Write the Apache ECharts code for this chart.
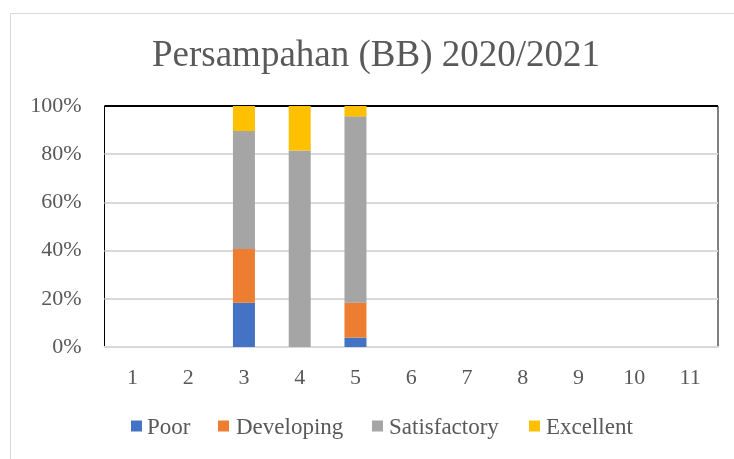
<!DOCTYPE html>
<html>
<head>
<meta charset="utf-8">
<script src="https://cdn.jsdelivr.net/npm/echarts@6/dist/echarts.min.js"></script>
<style>
html,body{margin:0;padding:0;background:#fff;}
#chart{width:734px;height:459px;}
</style>
</head>
<body>
<div id="chart"></div>
<script>
const titleText = 'Persampahan (BB) 2020/2021';
const categories = ['1','2','3','4','5','6','7','8','9','10','11'];
const poor =         [0, 0, 18.4, 0,    3.9, 0, 0, 0, 0, 0, 0];
const developing =   [0, 0, 22.3, 0,   14.5, 0, 0, 0, 0, 0, 0];
const satisfactory = [0, 0, 48.9, 81.5, 77.3, 0, 0, 0, 0, 0, 0];
const excellent =    [0, 0, 10.4, 18.5,  4.3, 0, 0, 0, 0, 0, 0];
const seriesNames = ['Poor','Developing','Satisfactory','Excellent'];
const seriesColors = ['#4472C4','#ED7D31','#A5A5A5','#FFC000'];
const seriesData = [poor, developing, satisfactory, excellent];

const font = 'Liberation Serif';
const legendMarkerX = [131, 218, 372, 529];
const legendTextX = [147, 236, 389, 546];
const legendGraphics = [];
seriesNames.forEach((n, i) => {
  legendGraphics.push({
    type: 'rect', silent: true,
    shape: {x: legendMarkerX[i], y: 420.5, width: 11, height: 11},
    style: {fill: seriesColors[i]}
  });
  legendGraphics.push({
    type: 'text', silent: true,
    x: legendTextX[i], y: 427.5,
    style: {text: n, fontFamily: font, fontSize: 23, fontWeight: 'normal', fill: '#595959', verticalAlign: 'middle', align: 'left'}
  });
});

const chart = echarts.init(document.getElementById('chart'), null, {renderer:'canvas'});
chart.setOption({
  animation: false,
  backgroundColor: '#fff',
  textStyle: {fontFamily: font, color: '#595959'},
  graphic: [{
    type: 'rect', silent: true, z: -10,
    shape: {x: 10.5, y: 13.5, width: 900, height: 600},
    style: {fill: 'none', stroke: '#d9d9d9', lineWidth: 1}
  }].concat(legendGraphics),
  title: {
    text: titleText,
    left: 371, top: 33, textAlign: 'center',
    textStyle: {fontFamily: font, fontSize: 37, fontWeight: 'normal', color: '#595959'}
  },
  grid: {
    left: 104.5, right: 16, top: 106, bottom: 112,
    show: true, borderColor: '#000', borderWidth: 1, backgroundColor: 'transparent'
  },
  xAxis: {
    type: 'category', data: categories,
    axisLine: {lineStyle: {color: '#d9d9d9', width: 2}},
    axisTick: {show: false},
    axisLabel: {fontFamily: font, fontSize: 22, color: '#595959', margin: 20}
  },
  yAxis: {
    type: 'value', min: 0, max: 100, interval: 20,
    axisLine: {show: false},
    axisTick: {show: false},
    splitLine: {lineStyle: {color: ['#d9d9d9','#d9d9d9','#d9d9d9','#d9d9d9','#d9d9d9','#000'], width: 2}},
    axisLabel: {fontFamily: font, fontSize: 22, color: '#595959', margin: 23, formatter: '{value}%'}
  },
  series: seriesNames.map((name, i) => ({
    name: name, type: 'bar', stack: 'total',
    data: seriesData[i], barWidth: 22,
    itemStyle: {color: seriesColors[i]}
  }))
});
</script>
</body>
</html>
